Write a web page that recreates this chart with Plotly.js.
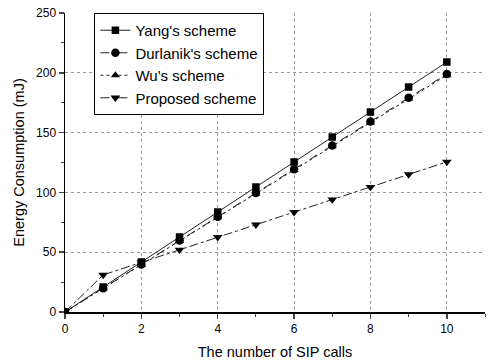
<!DOCTYPE html>
<html><head><meta charset="utf-8">
<script src="https://cdn.plot.ly/plotly-3.0.1.min.js"></script>
<style>html,body{margin:0;padding:0;background:#fff}#c{width:495px;height:360px}</style>
</head><body><div id="c"></div>
<script>
const calls = [0,1,2,3,4,5,6,7,8,9,10];
const yang = [0,20.9,41.8,62.7,83.6,104.5,125.4,146.3,167.2,188.1,209];
const durlanik = [0,19.9,39.8,59.7,79.6,99.5,119.4,139.3,159.2,179.1,199];
const wu = [0,19.8,39.6,59.4,79.2,99,118.8,138.6,158.4,178.2,198];
const proposed = [0,31,41.5,52,62.5,73,83.5,94,104.5,115,125.5];
const xTicks = [0,2,4,6,8,10];
const yTicks = [0,50,100,150,200,250];

const lc = '#222';
function tr(name, y, sym, dash, rank, msize){
  return {x: calls, y: y, name: name, type:'scatter', mode:'lines+markers',
    line:{color:lc, width:1, dash:dash},
    marker:{symbol:sym, size:msize, color:'#000'}, legendrank: rank};
}
const data = [
  tr("Yang's scheme", yang, 'square', 'solid', 1, 7.5),
  tr("Wu's scheme", wu, 'triangle-up', 'dot', 3, 8),
  tr("Durlanik's scheme", durlanik, 'circle', 'dash', 2, 8.5),
  tr("Proposed scheme", proposed, 'triangle-down', 'dashdot', 4, 8.5)
];
const font = {family:'"Liberation Sans", Arial, sans-serif', color:'#000'};
const layout = {
  width:495, height:360,
  margin:{l:65, r:10, t:12.5, b:48},
  paper_bgcolor:'#fff', plot_bgcolor:'#fff',
  font: Object.assign({size:12}, font),
  showlegend:true,
  legend:{x:0.07, y:1.0, xanchor:'left', yanchor:'top', bordercolor:'#000', borderwidth:1,
    bgcolor:'#fff', font:Object.assign({size:15}, font), tracegroupgap:0, itemwidth:30},
  xaxis:{range:[0,11], tickvals:xTicks, ticktext:xTicks.map(String), ticks:'outside', ticklen:5, tickwidth:1.5,
    showline:true, linecolor:'#000', linewidth:1.5, zeroline:false,
    showgrid:true, gridcolor:'#999', griddash:'dot', gridwidth:1,
    minor:{dtick:1, tick0:0, ticks:'outside', ticklen:3, tickwidth:1, showgrid:false},
    title:{text:'The number of SIP calls', font:Object.assign({size:14.5}, font), standoff:12},
    tickfont:Object.assign({size:12}, font)},
  yaxis:{range:[0,250], tickvals:yTicks, ticktext:yTicks.map(String), ticks:'outside', ticklen:5, tickwidth:1.5,
    showline:true, linecolor:'#000', linewidth:1.5, zeroline:false,
    showgrid:true, gridcolor:'#999', griddash:'dot', gridwidth:1,
    minor:{dtick:25, tick0:0, ticks:'outside', ticklen:3, tickwidth:1, showgrid:false},
    title:{text:'Energy Consumption (mJ)', font:Object.assign({size:14.5}, font), standoff:8},
    tickfont:Object.assign({size:12}, font)}
};
Plotly.newPlot('c', data, layout, {displayModeBar:false, staticPlot:true});
</script></body></html>
